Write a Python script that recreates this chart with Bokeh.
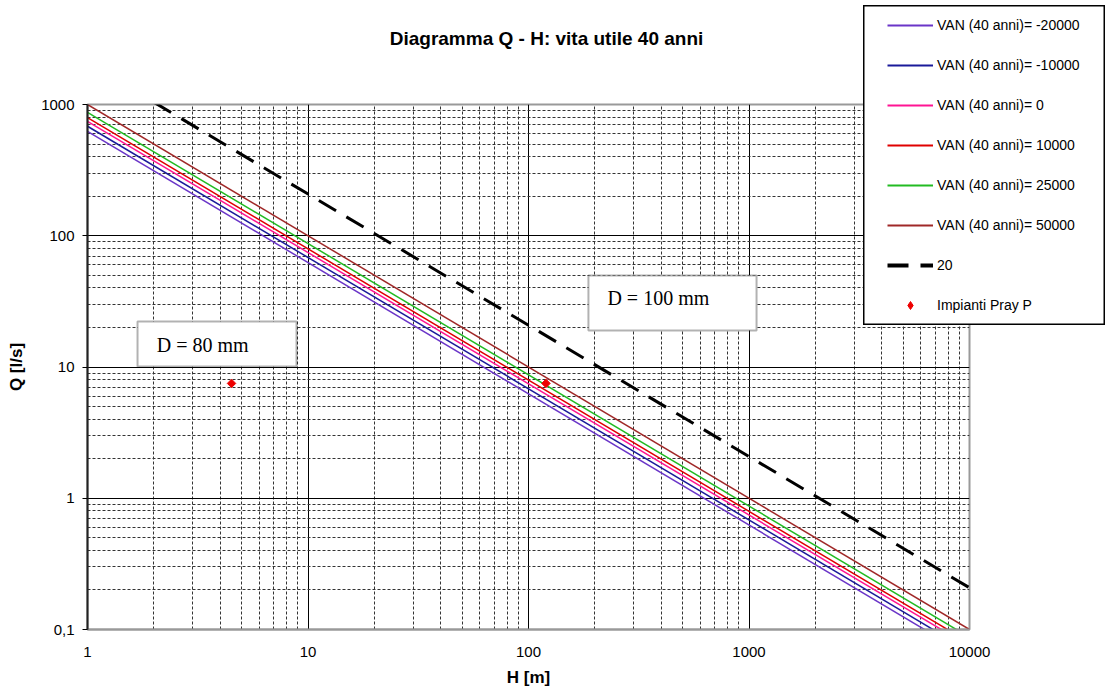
import math
from bokeh.plotting import figure
from bokeh.models import (FixedTicker, Label, BoxAnnotation, Legend, LegendItem,
                          CustomJSTickFormatter)
from bokeh.embed import file_html
from bokeh.resources import INLINE

# ---- data ----
h_end = [1, 10000]                      # H [m] endpoints of each curve
q_van_m20000 = [625, 0.0625]            # Q [l/s]
q_van_m10000 = [683, 0.0683]
q_van_0 = [745, 0.0745]
q_van_10000 = [795, 0.0795]
q_van_25000 = [872, 0.0872]
q_van_50000 = [1000, 0.1]
h_20 = [2, 10000]
q_20 = [1040, 0.208]
h_impianti = [4.5, 120]
q_impianti = [7.5, 7.5]

labels = ["VAN (40 anni)= -20000", "VAN (40 anni)= -10000", "VAN (40 anni)= 0",
          "VAN (40 anni)= 10000", "VAN (40 anni)= 25000", "VAN (40 anni)= 50000"]
series = [q_van_m20000, q_van_m10000, q_van_0, q_van_10000, q_van_25000, q_van_50000]
colors = ["#6a35c8", "#1a1a9a", "#ff1493", "#e00000", "#22bb22", "#a02828"]

x_major = [1, 10, 100, 1000, 10000]
y_major = [0.1, 1, 10, 100, 1000]
x_minor = [m * d for d in [1, 10, 100, 1000] for m in range(2, 10)]
y_minor = [round(m * d, 3) for d in [0.1, 1, 10, 100] for m in range(2, 10)]

FONT = "Liberation Sans"

p = figure(x_axis_type="log", y_axis_type="log",
           x_range=(1, 10000), y_range=(0.1, 1000),
           frame_width=882, frame_height=525,
           min_border_left=87, min_border_right=136, min_border_top=104, min_border_bottom=61,
           output_backend="svg", toolbar_location=None)
p.background_fill_color = "white"
p.border_fill_color = "white"
p.outline_line_color = "#999999"
p.outline_line_width = 2

# grids
p.xgrid.ticker = FixedTicker(ticks=[10, 100, 1000], minor_ticks=x_minor)
p.ygrid.ticker = FixedTicker(ticks=[1, 10, 100], minor_ticks=y_minor)
for g in (p.xgrid, p.ygrid):
    g.grid_line_color = "black"
    g.grid_line_width = 1
    g.minor_grid_line_color = "#333333"
    g.minor_grid_line_dash = "3 2"
    g.minor_grid_line_width = 1

# axes
p.xaxis.ticker = FixedTicker(ticks=x_major)
p.yaxis.ticker = FixedTicker(ticks=y_major)
p.yaxis.formatter = CustomJSTickFormatter(code="return String(tick).replace('.', ',');")
p.xaxis.formatter = CustomJSTickFormatter(code="return String(tick);")
for ax in (p.xaxis, p.yaxis):
    ax.minor_tick_line_color = None
    ax.major_label_text_font = FONT
    ax.major_label_text_font_size = "15px"
    ax.major_label_text_color = "black"
    ax.axis_label_text_font = FONT
    ax.axis_label_text_font_style = "bold"
    ax.axis_label_text_font_size = "17px"
    ax.axis_label_text_color = "black"
p.xaxis.axis_label = "H [m]"
p.yaxis.axis_label = "Q [l/s]"
p.xaxis.axis_line_color = "#999999"
p.xaxis.axis_line_width = 2
p.xaxis.major_tick_line_color = None
p.xaxis.major_tick_out = 0
p.xaxis.major_tick_in = 0
p.xaxis.major_label_standoff = 17
p.xaxis.axis_label_standoff = 8
p.yaxis.axis_line_color = "#222222"
p.yaxis.axis_line_width = 2
p.yaxis.major_tick_line_color = "black"
p.yaxis.major_tick_out = 5
p.yaxis.major_tick_in = 0
p.yaxis.major_label_standoff = 8
p.yaxis.axis_label_standoff = 12

for q, c in zip(series, colors):
    p.line(h_end, q, line_color=c, line_width=1.5)
p.line(h_20, q_20, line_color="black", line_width=3, line_dash="20 12")
p.scatter(h_impianti, q_impianti, marker="square", size=6, angle=math.pi / 4,
          fill_color="#ee0000", line_color="#ee0000")

# text boxes
p.add_layout(BoxAnnotation(left=1.686, right=8.87, bottom=10.1, top=22.2,
                           fill_color="white", fill_alpha=1, line_color="black", line_width=2))
p.add_layout(BoxAnnotation(left=187, right=1082, bottom=19.0, top=49.8,
                           fill_color="white", fill_alpha=1, line_color="black", line_width=2))
p.add_layout(Label(x=2.06, y=14.8, text="D = 80 mm", text_font="Liberation Serif",
                   text_font_size="20px", text_baseline="middle", text_align="left",
                   text_color="black"))
p.add_layout(Label(x=228, y=33.3, text="D = 100 mm", text_font="Liberation Serif",
                   text_font_size="20px", text_baseline="middle", text_align="left",
                   text_color="black"))

# title (placed in the top border panel so it is not clipped to the frame)
p.add_layout(Label(x=120.7, y=3185, text="Diagramma Q - H: vita utile 40 anni",
                   text_font=FONT, text_font_style="bold", text_font_size="19px",
                   text_align="center", text_baseline="middle", text_color="black"), "above")

# legend overlay (legend box overlaps the plot frame and the top border)
ov = figure(width=242, height=320, x_range=(0, 1), y_range=(0, 1), title=None,
            min_border=0, toolbar_location=None, output_backend="svg",
            x_axis_location=None, y_axis_location=None)
ov.xgrid.visible = False
ov.ygrid.visible = False
ov.outline_line_color = "black"
ov.outline_line_width = 2
ov.background_fill_color = "white"
ov.border_fill_alpha = 0
items = []
for lab, c in zip(labels, colors):
    r = ov.line([5, 6], [5, 6], line_color=c, line_width=2)
    items.append(LegendItem(label=lab, renderers=[r]))
r20 = ov.line([5, 6], [5, 6], line_color="black", line_width=4, line_dash="21 12")
items.append(LegendItem(label="20", renderers=[r20]))
rp = ov.scatter([5], [5], marker="diamond", size=13,
                fill_color="#ee0000", line_color="#ee0000")
items.append(LegendItem(label="Impianti Pray P", renderers=[rp]))
legend = Legend(items=items, location=(24, 10), margin=0, padding=10, spacing=20,
                glyph_width=46, glyph_height=20, label_height=20, label_width=150,
                label_standoff=4,
                label_text_font=FONT, label_text_font_size="14px", label_text_color="black",
                border_line_color=None, background_fill_alpha=0)
ov.add_layout(legend, "center")
ov.styles = {"position": "absolute", "left": "863px", "top": "5px", "z-index": "10"}

open("out.html", "w").write(file_html([p, ov], INLINE))
